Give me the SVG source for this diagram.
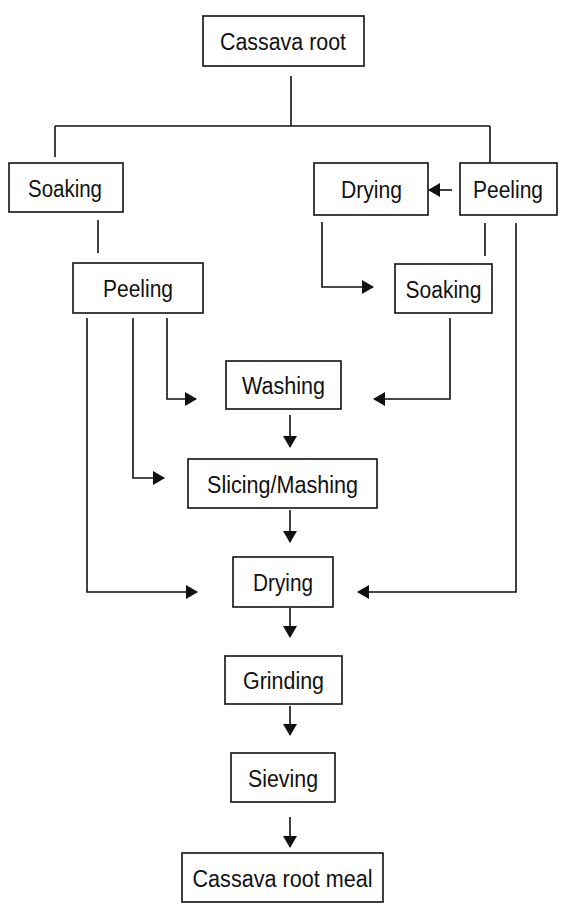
<svg xmlns="http://www.w3.org/2000/svg" width="565" height="904" viewBox="0 0 565 904">
<style>
  .box { fill: #ffffff; stroke: #111111; stroke-width: 1.6; }
  .lbl { font-family: "Liberation Sans", Arial, sans-serif; font-size: 23px; fill: #111111; text-anchor: middle; }
  .ln { fill: none; stroke: #111111; stroke-width: 1.6; }
  .arr { fill: none; stroke: #111111; stroke-width: 1.6; marker-end: url(#ah); }
</style>
<defs>
  <marker id="ah" viewBox="0 0 12 14" refX="11" refY="7" markerWidth="12" markerHeight="14" markerUnits="userSpaceOnUse" orient="auto">
    <path d="M0,0 L12,7 L0,14 Z" fill="#111111"/>
  </marker>
</defs>
<rect width="565" height="904" fill="#ffffff"/>

<g id="connectors">
  <line class="ln" x1="291" y1="76" x2="291" y2="126"/>
  <line class="ln" x1="55" y1="126" x2="490" y2="126"/>
  <line class="ln" x1="55" y1="126" x2="55" y2="157"/>
  <line class="ln" x1="490" y1="126" x2="490" y2="163"/>
  <line class="ln" x1="98" y1="220" x2="98" y2="253"/>
  <line class="arr" x1="452" y1="190" x2="429" y2="190"/>
  <polyline class="arr" points="322,222 322,287 373,287"/>
  <line class="ln" x1="485" y1="223" x2="485" y2="256"/>
  <polyline class="arr" points="516,223 516,592 358,592"/>
  <polyline class="arr" points="87,318 87,592 197,592"/>
  <polyline class="arr" points="133,318 133,478 164,478"/>
  <polyline class="arr" points="167,318 167,399 196,399"/>
  <polyline class="arr" points="450,318 450,399 374,399"/>
  <line class="arr" x1="290" y1="415" x2="290" y2="447"/>
  <line class="arr" x1="290" y1="510" x2="290" y2="542"/>
  <line class="arr" x1="290" y1="608" x2="290" y2="637"/>
  <line class="arr" x1="290" y1="706" x2="290" y2="735"/>
  <line class="arr" x1="290" y1="817" x2="290" y2="847"/>
</g>

<g id="cassava-root">
  <rect class="box" x="203" y="16" width="161" height="50"/>
  <text class="lbl" x="283" y="50" textLength="126" lengthAdjust="spacingAndGlyphs">Cassava root</text>
</g>
<g id="soaking-left">
  <rect class="box" x="9" y="163" width="114" height="49"/>
  <text class="lbl" x="65" y="197" textLength="74" lengthAdjust="spacingAndGlyphs">Soaking</text>
</g>
<g id="peeling-left">
  <rect class="box" x="73" y="263" width="130" height="50"/>
  <text class="lbl" x="138" y="297" textLength="70" lengthAdjust="spacingAndGlyphs">Peeling</text>
</g>
<g id="drying-top">
  <rect class="box" x="314" y="163" width="114" height="52"/>
  <text class="lbl" x="371.5" y="198" textLength="61" lengthAdjust="spacingAndGlyphs">Drying</text>
</g>
<g id="peeling-right">
  <rect class="box" x="460" y="163" width="97" height="52"/>
  <text class="lbl" x="508" y="198" textLength="70" lengthAdjust="spacingAndGlyphs">Peeling</text>
</g>
<g id="soaking-right">
  <rect class="box" x="395" y="264" width="97" height="49"/>
  <text class="lbl" x="443.5" y="297.5" textLength="76" lengthAdjust="spacingAndGlyphs">Soaking</text>
</g>
<g id="washing">
  <rect class="box" x="226" y="361" width="115" height="48"/>
  <text class="lbl" x="283.5" y="394" textLength="83" lengthAdjust="spacingAndGlyphs">Washing</text>
</g>
<g id="slicing-mashing">
  <rect class="box" x="188" y="459" width="189" height="49"/>
  <text class="lbl" x="282.5" y="493" textLength="151" lengthAdjust="spacingAndGlyphs">Slicing/Mashing</text>
</g>
<g id="drying-main">
  <rect class="box" x="233" y="557" width="100" height="50"/>
  <text class="lbl" x="283" y="591" textLength="60" lengthAdjust="spacingAndGlyphs">Drying</text>
</g>
<g id="grinding">
  <rect class="box" x="225" y="656" width="117" height="48"/>
  <text class="lbl" x="283.5" y="689" textLength="81" lengthAdjust="spacingAndGlyphs">Grinding</text>
</g>
<g id="sieving">
  <rect class="box" x="231" y="753" width="104" height="49"/>
  <text class="lbl" x="283" y="786.5" textLength="70" lengthAdjust="spacingAndGlyphs">Sieving</text>
</g>
<g id="cassava-root-meal">
  <rect class="box" x="182" y="853" width="201" height="49"/>
  <text class="lbl" x="282.5" y="887" textLength="180" lengthAdjust="spacingAndGlyphs">Cassava root meal</text>
</g>
</svg>
